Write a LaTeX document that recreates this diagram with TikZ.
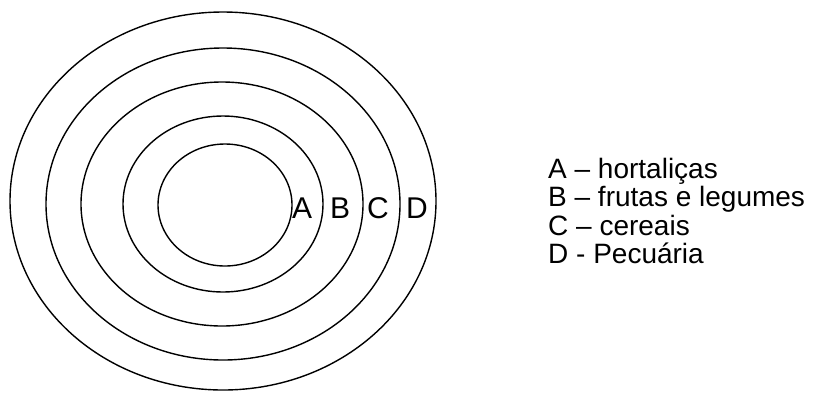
\documentclass[tikz,border=0pt]{standalone}
\usepackage{fontspec}
\setmainfont{Liberation Sans}
\usepackage{tikz}
\usetikzlibrary{positioning}

\begin{document}
\begin{tikzpicture}[
  x=1pt, y=-1pt,
  ring/.style={draw, line width=1.4pt},
  ringlabel/.style={inner sep=0pt, anchor=base, font=\fontsize{30}{32}\selectfont},
  legend/.style={inner sep=0pt, anchor=base west, font=\fontsize{28}{30}\selectfont},
]
\useasboundingbox (0,0) rectangle (834,392);
% concentric zones
\draw[ring] (223,201) ellipse [x radius=213, y radius=189];
\draw[ring] (223,204) ellipse [x radius=177, y radius=156];
\draw[ring] (222,204) ellipse [x radius=141, y radius=122];
\draw[ring] (223,204) ellipse [x radius=100, y radius=88];
\draw[ring] (225,205) ellipse [x radius=67, y radius=61];
% zone letters
\node[ringlabel] (la) at (302,218) {A};
\node[ringlabel] (lb) at (340,218) {B};
\node[ringlabel] (lc) at (378,218) {C};
\node[ringlabel] (ld) at (417,218) {D};
% legend
\node[legend] (ka) at (548,178) {A -- hortaliças};
\node[legend] (kb) at (548,206.5) {B -- frutas e legumes};
\node[legend] (kc) at (548,235) {C -- cereais};
\node[legend] (kd) at (548,263.5) {D - Pecuária};
\end{tikzpicture}
\end{document}
